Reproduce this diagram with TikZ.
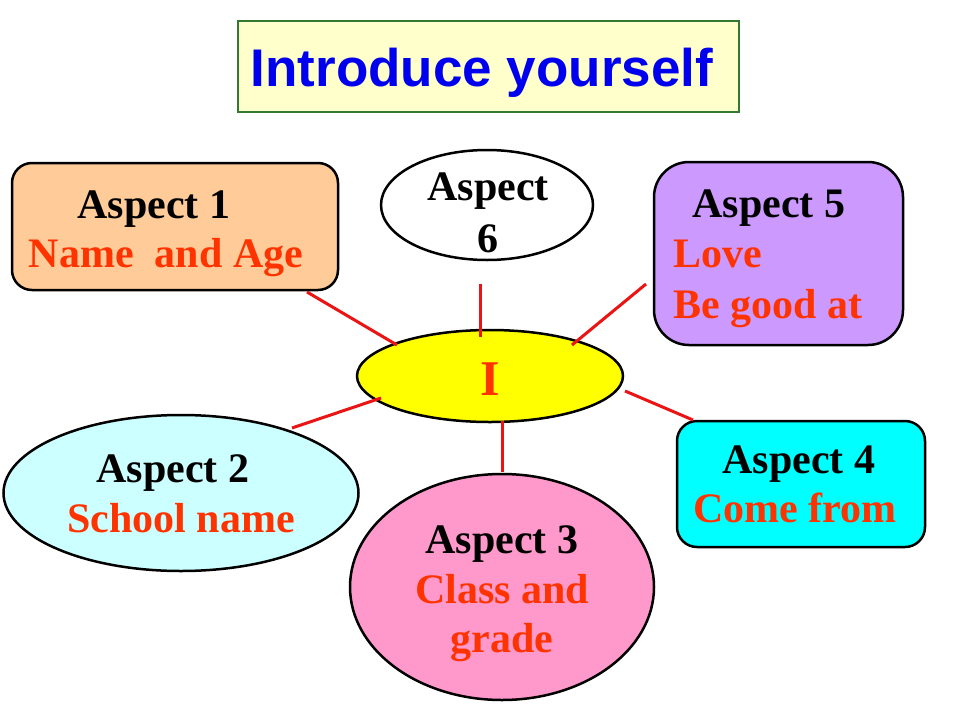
\documentclass[tikz,border=0pt]{standalone}
\usepackage{fontspec}
\setmainfont{Liberation Serif}
\newfontfamily\titlefont{Liberation Sans}
\usetikzlibrary{shapes.geometric}
\definecolor{peach}{RGB}{255,204,153}
\definecolor{lilac}{RGB}{204,153,255}
\definecolor{palecyan}{RGB}{204,255,255}
\definecolor{pinkish}{RGB}{255,153,204}
\definecolor{aqua}{RGB}{0,255,255}
\definecolor{ctryellow}{RGB}{255,255,0}
\definecolor{titlefill}{RGB}{255,255,204}
\definecolor{titleborder}{RGB}{51,120,51}
\definecolor{redtext}{RGB}{255,51,0}
\definecolor{linered}{RGB}{235,20,20}
\definecolor{titleblue}{RGB}{0,0,238}
\tikzset{
  shapebox/.style={draw=black, line width=2.5pt, rectangle, inner sep=0pt},
  shapeell/.style={draw=black, line width=2.5pt, ellipse, inner sep=0pt},
  hd/.style={anchor=base, inner sep=0pt, font=\fontsize{42}{48}\selectfont\bfseries, text=black},
  sub/.style={anchor=base, inner sep=0pt, font=\fontsize{42}{48}\selectfont\bfseries, text=redtext},
  subl/.style={anchor=base west, inner sep=0pt, font=\fontsize{42}{48}\selectfont\bfseries, text=redtext},
  conn/.style={draw=linered, line width=3pt},
}
\begin{document}
\begin{tikzpicture}[x=1pt,y=-1pt]
\useasboundingbox[fill=white] (0,0) rectangle (960,720);
% title
\node[rectangle, draw=titleborder, fill=titlefill, line width=1.2pt, minimum width=501pt, minimum height=91pt, inner sep=0pt] (title) at (488.5,66.5) {};
\node[anchor=base, inner sep=0pt, font=\titlefont\fontsize{53}{60}\selectfont\bfseries, text=titleblue] (titletext) at (482,86.5) {Introduce yourself};
% connectors
\coordinate (c1a) at (307,292); \coordinate (c1b) at (397,345);
\coordinate (c6a) at (480,284); \coordinate (c6b) at (480,337);
\coordinate (c5a) at (646,284); \coordinate (c5b) at (572,345);
\coordinate (c2a) at (292,428); \coordinate (c2b) at (381,398);
\coordinate (c3a) at (502,421); \coordinate (c3b) at (502,472);
\coordinate (c4a) at (625,391); \coordinate (c4b) at (693,420);
% aspect 1
\node[shapebox, fill=peach, rounded corners=20pt, minimum width=326pt, minimum height=127pt] (a1) at (175,226.5) {};
\node[hd] (a1h) at (154,218) {Aspect 1};
\node[sub] (a1s) at (166,267) {Name\ \ and Age};
% aspect 6
\node[shapeell, fill=white, minimum width=212pt, minimum height=110pt] (a6) at (487,205) {};
\node[hd] (a6h) at (488,200) {Aspect};
\node[hd] (a6n) at (488,252) {6};
% aspect 5
\node[shapebox, fill=lilac, rounded corners=35pt, minimum width=249pt, minimum height=183pt] (a5) at (778.5,253.5) {};
\node[hd] (a5h) at (769,217) {Aspect 5};
\node[subl] (a5s1) at (673,267) {Love};
\node[subl] (a5s2) at (673,318) {Be good at};
% aspect 2
\node[shapeell, fill=palecyan, minimum width=355pt, minimum height=156pt] (a2) at (181,493) {};
\node[hd] (a2h) at (173,482) {Aspect 2};
\node[sub] (a2s) at (181,532) {School name};
% aspect 3
\node[shapeell, fill=pinkish, minimum width=304pt, minimum height=226pt] (a3) at (502,587) {};
\node[hd] (a3h) at (502,553) {Aspect 3};
\node[sub] (a3s1) at (502,603) {Class and};
\node[sub] (a3s2) at (502,652) {grade};
% aspect 4
\node[shapebox, fill=aqua, rounded corners=20pt, minimum width=248pt, minimum height=126pt] (a4) at (801,484) {};
\node[hd] (a4h) at (799,473) {Aspect 4};
\node[sub] (a4s) at (795,522) {Come from};
% centre
\node[shapeell, fill=ctryellow, minimum width=266pt, minimum height=92pt] (me) at (490,376) {};
\node[anchor=base, inner sep=0pt, font=\fontsize{50}{56}\selectfont\bfseries, text=redtext] (metext) at (490,395) {I};
% connectors drawn
\draw[conn] (c1a) -- (c1b);
\draw[conn] (c6a) -- (c6b);
\draw[conn] (c5a) -- (c5b);
\draw[conn] (c2a) -- (c2b);
\draw[conn] (c3a) -- (c3b);
\draw[conn] (c4a) -- (c4b);
\end{tikzpicture}
\end{document}
